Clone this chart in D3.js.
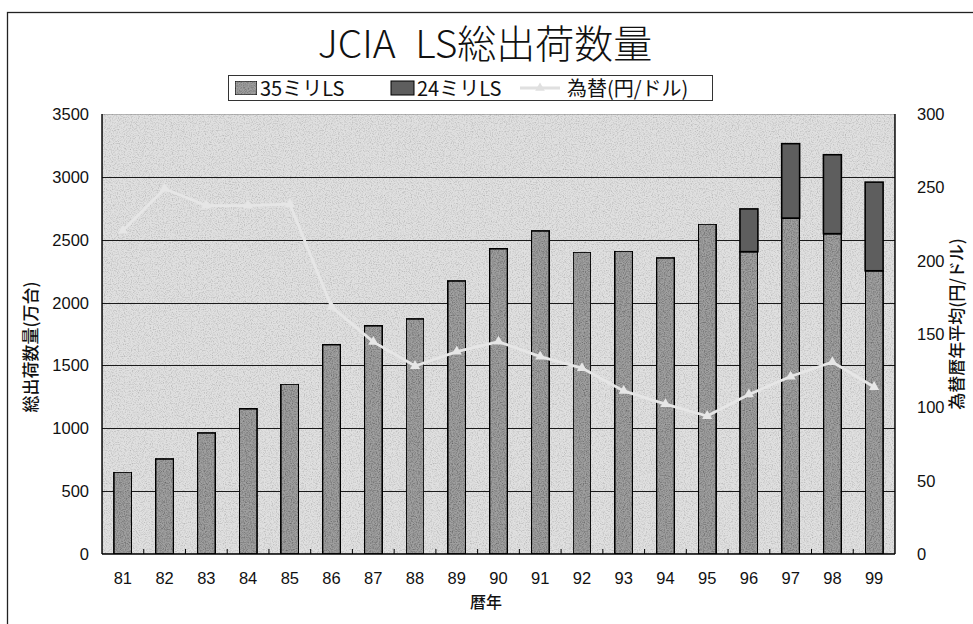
<!DOCTYPE html>
<html>
<head>
<meta charset="utf-8">
<script src="https://cdn.jsdelivr.net/npm/d3@7"></script>
<style>
  body { margin: 0; background: #fff; }
  svg text { font-family: "Liberation Sans", Arial, "Noto Sans CJK JP", sans-serif; fill: #111; }
  svg text.jp { font-family: "Noto Sans CJK JP", "Liberation Sans", sans-serif; }
</style>
</head>
<body>
<svg id="chart" width="973" height="624"></svg>
<script>
// data
var years = ["81","82","83","84","85","86","87","88","89","90","91","92","93","94","95","96","97","98","99"];
var ls35 = [652, 756, 963, 1155, 1352, 1665, 1815, 1870, 2172, 2428, 2570, 2402, 2410, 2355, 2625, 2405, 2672, 2548, 2253];
var ls24 = [0, 0, 0, 0, 0, 0, 0, 0, 0, 0, 0, 0, 0, 0, 0, 340, 592, 628, 705];
var yen  = [220.5, 249, 237.5, 237.5, 238.5, 168.5, 144.6, 128.2, 138, 144.8, 134.6, 126.8, 111.2, 102.2, 94.1, 108.8, 121, 130.9, 113.9];
var leftTicks = [0, 500, 1000, 1500, 2000, 2500, 3000, 3500];
var rightTicks = [0, 50, 100, 150, 200, 250, 300];

var svg = d3.select("#chart"),
    margin = {top: 114, right: 78, bottom: 70, left: 102},
    width = 973 - margin.left - margin.right,
    height = 624 - margin.top - margin.bottom;

// light speckle to fake the scanned halftone
var defs = svg.append("defs");
function grain(id, k, c, seed) {
  var f = defs.append("filter").attr("id", id).attr("x", 0).attr("y", 0).attr("width", 1).attr("height", 1);
  f.append("feTurbulence").attr("type", "fractalNoise").attr("baseFrequency", 0.85).attr("numOctaves", 2).attr("seed", seed).attr("result", "n");
  f.append("feColorMatrix").attr("in", "n").attr("type", "matrix")
    .attr("values", "0 0 0 0 0  0 0 0 0 0  0 0 0 0 0  0 0 0 " + k + " " + c).attr("result", "a");
  f.append("feComposite").attr("in", "a").attr("in2", "SourceGraphic").attr("operator", "in").attr("result", "b");
  f.append("feMerge").selectAll("feMergeNode").data(["SourceGraphic", "b"]).enter()
    .append("feMergeNode").attr("in", function(d) { return d; });
}
grain("grainBg", -0.8, 0.45, 3);
grain("grainBar", -1.2, 0.75, 7);

// outer frame
svg.append("rect").attr("x", 7.5).attr("y", 12.5).attr("width", 980).attr("height", 630)
  .attr("fill", "none").attr("stroke", "#222").attr("stroke-width", 1.3);

var g = svg.append("g").attr("transform", "translate(" + margin.left + "," + margin.top + ")");

var x = d3.scaleBand().domain(years).range([0, width]).paddingInner(0.57).paddingOuter(0.285);
var y = d3.scaleLinear().domain([0, 3500]).range([height, 0]);
var y2 = d3.scaleLinear().domain([0, 300]).range([height, 0]);

// plot background
g.append("rect").attr("width", width).attr("height", height)
  .attr("fill", "#e0e0e0").attr("stroke", "#8a8a8a").attr("filter", "url(#grainBg)");

// gridlines
g.append("g").selectAll("line").data(leftTicks.slice(1, -1)).enter().append("line")
  .attr("x1", 0).attr("x2", width)
  .attr("y1", function(d) { return Math.round(y(d)) + 0.5; })
  .attr("y2", function(d) { return Math.round(y(d)) + 0.5; })
  .attr("stroke", "#1a1a1a").attr("stroke-width", 1);

// stacked bars
var stackData = years.map(function(d, i) { return {year: d, a: ls35[i], b: ls24[i]}; });
var series = d3.stack().keys(["a", "b"])(stackData);
var fills = {a: "#a0a0a0", b: "#5e5e5e"};

g.append("g").selectAll("g").data(series).enter().append("g")
  .attr("fill", function(s) { return fills[s.key]; })
  .selectAll("rect").data(function(s) { return s.filter(function(d) { return d[1] > d[0]; }); })
  .enter().append("rect")
    .attr("x", function(d) { return x(d.data.year); })
    .attr("y", function(d) { return y(d[1]); })
    .attr("width", x.bandwidth())
    .attr("height", function(d) { return y(d[0]) - y(d[1]); })
    .attr("stroke", "#000").attr("stroke-width", 1.6)
    .attr("filter", function() { return d3.select(this.parentNode).datum().key == "a" ? "url(#grainBar)" : null; });

// exchange-rate line
var line = d3.line()
  .x(function(d, i) { return x(years[i]) + x.bandwidth() / 2; })
  .y(function(d) { return y2(d); });

g.append("path").datum(yen).attr("d", line)
  .attr("fill", "none").attr("stroke", "#e6e6e6").attr("stroke-width", 2.8);

g.append("g").selectAll("path").data(yen).enter().append("path")
  .attr("d", d3.symbol().type(d3.symbolTriangle).size(45))
  .attr("transform", function(d, i) { return "translate(" + (x(years[i]) + x.bandwidth() / 2) + "," + y2(d) + ")"; })
  .attr("fill", "#e6e6e6");

// axes
var xAxis = g.append("g").attr("transform", "translate(0," + height + ")");
xAxis.append("line").attr("x1", 0).attr("x2", width).attr("stroke", "#000").attr("stroke-width", 1.6);
xAxis.selectAll(".tk").data(d3.range(1, years.length)).enter().append("line")
  .attr("x1", function(i) { return x.step() * i; }).attr("x2", function(i) { return x.step() * i; })
  .attr("y1", 0).attr("y2", -5).attr("stroke", "#000");
xAxis.selectAll("text").data(years).enter().append("text")
  .attr("x", function(d) { return x(d) + x.bandwidth() / 2; })
  .attr("y", 30).attr("text-anchor", "middle").attr("font-size", 16.5).text(function(d) { return d; });

g.append("line").attr("x1", 0).attr("x2", 0).attr("y1", 0).attr("y2", height).attr("stroke", "#000").attr("stroke-width", 1.4);
g.append("line").attr("x1", width).attr("x2", width).attr("y1", 0).attr("y2", height).attr("stroke", "#000").attr("stroke-width", 1.4);

g.append("g").selectAll("text").data(leftTicks).enter().append("text")
  .attr("x", -13).attr("y", function(d) { return y(d); }).attr("dy", "0.36em")
  .attr("text-anchor", "end").attr("font-size", 16.5).text(function(d) { return d; });

g.append("g").selectAll("text").data(rightTicks).enter().append("text")
  .attr("x", width + 22).attr("y", function(d) { return y2(d); }).attr("dy", "0.36em")
  .attr("text-anchor", "start").attr("font-size", 16.5).text(function(d) { return d; });

// titles
svg.append("text").attr("class", "jp").attr("x", 485).attr("y", 58).attr("text-anchor", "middle")
  .attr("font-size", 39).attr("font-weight", 300).text("JCIA\u2002LS総出荷数量");

svg.append("text").attr("class", "jp").attr("x", 486).attr("y", 608).attr("text-anchor", "middle")
  .attr("font-size", 16).attr("font-weight", 500).text("暦年");

svg.append("text").attr("class", "jp").attr("transform", "translate(37,347) rotate(-90)")
  .attr("text-anchor", "middle").attr("font-size", 17).attr("font-weight", 500).text("総出荷数量(万台)");

svg.append("text").attr("class", "jp").attr("transform", "translate(963,324) rotate(-90)")
  .attr("text-anchor", "middle").attr("font-size", 17).attr("font-weight", 500).text("為替暦年平均(円/ドル)");

// legend
var lg = svg.append("g");
lg.append("rect").attr("x", 228.5).attr("y", 75.5).attr("width", 484).attr("height", 25)
  .attr("fill", "#fff").attr("stroke", "#333");
lg.append("rect").attr("x", 235).attr("y", 81).attr("width", 22).attr("height", 14)
  .attr("fill", fills.a).attr("stroke", "#000").attr("filter", "url(#grainBar)");
lg.append("text").attr("class", "jp").attr("x", 260).attr("y", 96).attr("font-size", 20).text("35ミリLS");
lg.append("rect").attr("x", 391).attr("y", 81).attr("width", 23).attr("height", 14)
  .attr("fill", fills.b).attr("stroke", "#000");
lg.append("text").attr("class", "jp").attr("x", 417).attr("y", 96).attr("font-size", 20).text("24ミリLS");
lg.append("line").attr("x1", 520).attr("x2", 560).attr("y1", 88).attr("y2", 88).attr("stroke", "#e0e0e0").attr("stroke-width", 2.8);
lg.append("path").attr("d", d3.symbol().type(d3.symbolTriangle).size(40)).attr("transform", "translate(540,88)").attr("fill", "#e0e0e0");
lg.append("text").attr("class", "jp").attr("x", 567).attr("y", 96).attr("font-size", 20).text("為替(円/ドル)");
</script>
</body>
</html>
